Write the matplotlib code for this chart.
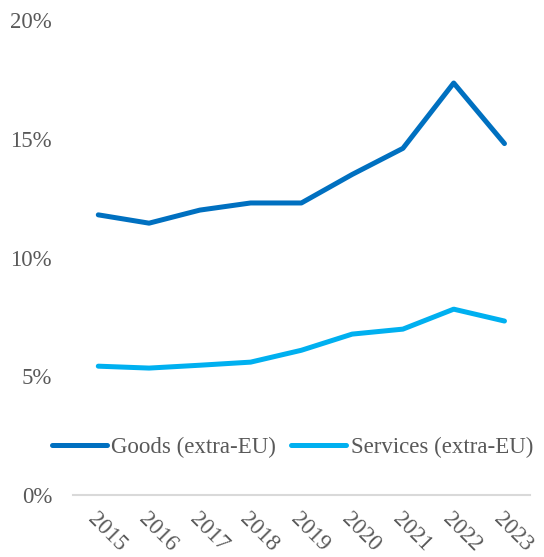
# Extra-EU share chart: goods vs services, 2015-2023

import numpy as np
import matplotlib.pyplot as plt
from matplotlib.ticker import PercentFormatter

years = ["2015", "2016", "2017", "2018", "2019", "2020", "2021", "2022", "2023"]
goods = [11.8, 11.45, 12.0, 12.3, 12.3, 13.5, 14.6, 17.35, 14.8]
services = [5.43, 5.35, 5.47, 5.6, 6.1, 6.78, 6.99, 7.83, 7.33]

plt.rcParams["font.family"] = ["Liberation Serif", "DejaVu Serif"]
text_gray = "#595959"

fig = plt.figure(figsize=(5.44, 5.57), dpi=100)
ax = fig.add_axes([0.134, 0.111, 0.84, 0.853])

x = np.arange(len(years))
ax.plot(x, goods, color="#0070C0", linewidth=3.6, solid_capstyle="round",
        solid_joinstyle="round", label="Goods (extra-EU)")
ax.plot(x, services, color="#00B0F0", linewidth=3.6, solid_capstyle="round",
        solid_joinstyle="round", label="Services (extra-EU)")

ax.set_xlim(-0.5, len(years) - 0.5)
ax.set_ylim(0, 20)
ax.set_yticks([0, 5, 10, 15, 20])
ax.yaxis.set_major_formatter(PercentFormatter(decimals=0))
ax.set_xticks(x)
ax.set_xticklabels(years, rotation=-45, ha="left", rotation_mode="anchor")

for side in ["top", "right", "left"]:
    ax.spines[side].set_visible(False)
ax.spines["bottom"].set_color("#D9D9D9")
ax.spines["bottom"].set_linewidth(1.5)
ax.tick_params(axis="both", length=0, labelsize=16.5, labelcolor=text_gray)
ax.tick_params(axis="y", pad=15)
ax.tick_params(axis="x", pad=10)

leg = ax.legend(loc="center", bbox_to_anchor=(0.48, 0.10), ncol=2, frameon=False,
                fontsize=16.5, handlelength=2.4, handletextpad=0.2, columnspacing=0.65)
for t in leg.get_texts():
    t.set_color(text_gray)

fig.savefig("out.png", dpi=100)
